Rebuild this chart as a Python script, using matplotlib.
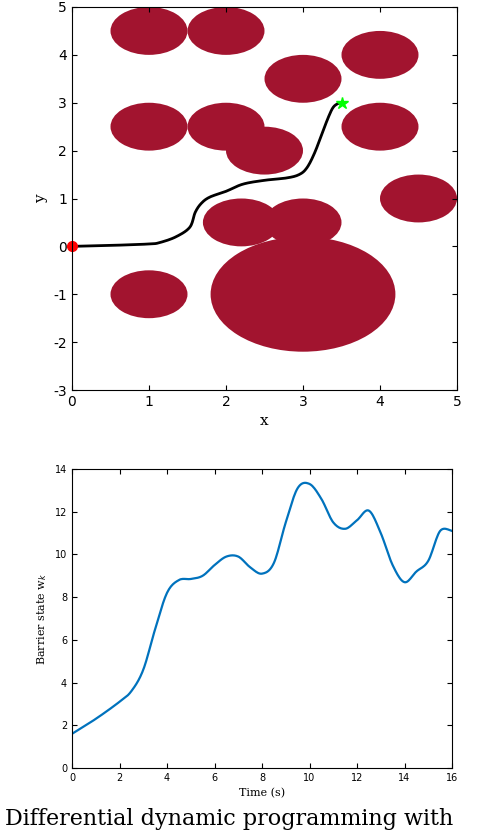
import numpy as np
import matplotlib.pyplot as plt
from matplotlib.patches import Ellipse

# obstacles: center x, center y, radius
obs_x = [1, 2, 3, 4, 1, 2, 2.5, 4, 4.5, 2.2, 3, 3, 1]
obs_y = [4.5, 4.5, 3.5, 4, 2.5, 2.5, 2, 2.5, 1, 0.5, 0.5, -1, -1]
obs_r = [0.5, 0.5, 0.5, 0.5, 0.5, 0.5, 0.5, 0.5, 0.5, 0.5, 0.5, 1.2, 0.5]

traj_x = [0, 0.5, 1.0, 1.14, 1.35, 1.53, 1.6, 1.68, 1.79, 2.0, 2.22, 2.5, 2.79, 2.95, 3.05, 3.15, 3.26, 3.33, 3.39, 3.45, 3.5]
traj_y = [0, 0.02, 0.05, 0.08, 0.2, 0.4, 0.71, 0.9, 1.03, 1.15, 1.3, 1.38, 1.43, 1.5, 1.64, 1.95, 2.41, 2.7, 2.9, 2.98, 3.0]

t = [0, 1, 2, 2.5, 3, 3.5, 4, 4.5, 5, 5.5, 6, 6.5, 7, 7.5, 8, 8.5, 9, 9.5, 10, 10.5,
     11, 11.5, 12, 12.5, 13, 13.5, 14, 14.5, 15, 15.5, 16]
w = [1.6, 2.3, 3.1, 3.6, 4.6, 6.5, 8.2, 8.8, 8.85, 9.0, 9.5, 9.9, 9.9, 9.4, 9.1, 9.6,
     11.5, 13.1, 13.3, 12.6, 11.5, 11.2, 11.6, 12.05, 11.0, 9.5, 8.7, 9.2, 9.7, 11.1, 11.1]


def smooth(xs, ys, n=12):
    # catmull-rom through the read points
    p = np.column_stack([xs, ys]).astype(float)
    p = np.vstack([p[0], p, p[-1]])
    out = []
    s = np.linspace(0, 1, n, endpoint=False)[:, None]
    for i in range(1, len(p) - 2):
        p0, p1, p2, p3 = p[i-1], p[i], p[i+1], p[i+2]
        out.append(0.5 * (2*p1 + (-p0 + p2)*s + (2*p0 - 5*p1 + 4*p2 - p3)*s**2
                          + (-p0 + 3*p1 - 3*p2 + p3)*s**3))
    out.append(p[-2][None, :])
    out = np.vstack(out)
    return out[:, 0], out[:, 1]


plt.rcParams['axes.unicode_minus'] = False
fig = plt.figure(figsize=(4.88, 8.32), dpi=100)
ax1 = fig.add_axes([72/488, 1-390/832, 385/488, 383/832])
ax2 = fig.add_axes([72/488, 1-768/832, 380/488, 299/832])

red = '#a2142f'
for cx, cy, r in zip(obs_x, obs_y, obs_r):
    ax1.add_patch(Ellipse((cx, cy), 2*r, 2*r, color=red, lw=0))
sx, sy = smooth(traj_x, traj_y)
ax1.plot(sx, sy, color='k', lw=2)
ax1.plot(0, 0, 'o', color='red', ms=7, clip_on=False)
ax1.plot(3.5, 3.0, '*', color='#00ff00', ms=9, clip_on=False)
ax1.set_xlim(0, 5)
ax1.set_ylim(-3, 5)
ax1.set_xlabel('x', family='serif', fontsize=11)
ax1.set_ylabel('y', family='serif', fontsize=11)
ax1.tick_params(direction='in', labelsize=10, top=True, right=True)

st, sw = smooth(t, w)
ax2.plot(st, sw, color='#0072bd', lw=1.6)
ax2.set_xlim(0, 16)
ax2.set_ylim(0, 14)
ax2.set_xticks(range(0, 17, 2))
ax2.set_yticks(range(0, 15, 2))
ax2.set_xlabel('Time (s)', family='serif', fontsize=8)
ax2.set_ylabel('Barrier state w$_k$', family='serif', fontsize=8)
ax2.tick_params(direction='in', labelsize=7, top=True, right=True)

fig.text(0.01, 0.003, 'Differential dynamic programming with',
         family='serif', fontsize=16, va='bottom')
fig.savefig('out.png', dpi=100)
